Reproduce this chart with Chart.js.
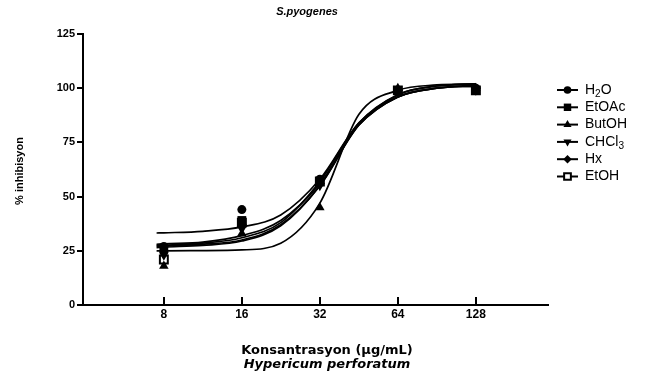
<!DOCTYPE html>
<html>
<head>
<meta charset="utf-8">
<script src="https://cdn.jsdelivr.net/npm/chart.js@4.4.1/dist/chart.umd.min.js"></script>
<style>
  html, body { margin: 0; padding: 0; background: #fff; }
</style>
</head>
<body>
<canvas id="myChart" width="648" height="374"></canvas>
<script>
// concentrations tested (µg/mL) and % inhibition per extract
const concentrations = [8, 16, 32, 64, 128];
const extracts = ['H₂O', 'EtOAc', 'ButOH', 'CHCl₃', 'Hx', 'EtOH'];

const h2o   = [27, 44, 58, 99, 100];
const etoac = [26, 39, 57, 99, 99];
const butoh = [18, 33, 45, 100, 100];
const chcl3 = [23, 35, 55, 98, 99];
const hx    = [25, 37, 56, 99, 100];
const etoh  = [21, 38, 57, 99, 99];

// fitted dose-response curves, read at half-octave steps
const fitConc  = [7.5, 8, 11.3, 16, 22.6, 32, 45.3, 64, 90.5, 128];
const h2oFit   = [33.2, 33.3, 34, 36, 41.5, 58, 84, 96, 100, 101];
const etoacFit = [27.5, 27.6, 28.5, 31, 38, 57, 84, 97, 101, 102];
const butohFit = [25, 25, 25.1, 25.4, 28.5, 47, 88, 99, 101.5, 102];
const chcl3Fit = [27, 27.2, 28, 30, 37, 55, 83, 96, 100, 101.5];
const hxFit    = [28, 28.2, 29, 32, 39, 56, 83, 96, 100, 101];
const etohFit  = [26.5, 26.7, 27.5, 29.5, 36.5, 55, 83.5, 97, 101, 102];

const yTicks = [0, 25, 50, 75, 100, 125];

const series = [h2o, etoac, butoh, chcl3, hx, etoh];
const fits = [h2oFit, etoacFit, butohFit, chcl3Fit, hxFit, etohFit];

const markers = [
  { pointStyle: 'circle',   radius: 4.5, rotation: 0,   fill: '#000', border: 0 },
  { pointStyle: 'rect',     radius: 6.2, rotation: 0,   fill: '#000', border: 0 },
  { pointStyle: 'triangle', radius: 5.5, rotation: 0,   fill: '#000', border: 0 },
  { pointStyle: 'triangle', radius: 5.5, rotation: 180, fill: '#000', border: 0 },
  { pointStyle: 'rectRot',  radius: 5,   rotation: 0,   fill: '#000', border: 0 },
  { pointStyle: 'rect',     radius: 5.6, rotation: 0,   fill: '#fff', border: 2 }
];

const toXY = (xs, ys) => xs.map((x, i) => ({ x: x, y: ys[i] }));

const datasets = [];
fits.forEach((f, i) => {
  datasets.push({
    type: 'line',
    label: extracts[i] + ' fit',
    data: toXY(fitConc, f),
    borderColor: '#000',
    borderWidth: 1.7,
    pointRadius: 0,
    cubicInterpolationMode: 'monotone',
    fill: false,
    order: 2
  });
});
series.forEach((s, i) => {
  const m = markers[i];
  datasets.push({
    type: 'scatter',
    label: extracts[i],
    data: toXY(concentrations, s),
    showLine: false,
    pointStyle: m.pointStyle,
    pointRadius: m.radius,
    pointRotation: m.rotation,
    pointBackgroundColor: m.fill,
    pointBorderColor: '#000',
    pointBorderWidth: m.border,
    order: 1
  });
});

// draws a label, rendering subscript digits smaller and lowered
function drawRich(ctx, text, x, y, size) {
  const subs = '₀₁₂₃₄₅₆₇₈₉';
  let cx = x;
  for (const ch of text) {
    const k = subs.indexOf(ch);
    if (k >= 0) {
      ctx.font = (size * 0.72) + 'px "Liberation Sans", Arial, sans-serif';
      ctx.fillText(String(k), cx, y + size * 0.28);
      cx += ctx.measureText(String(k)).width;
    } else {
      ctx.font = size + 'px "Liberation Sans", Arial, sans-serif';
      ctx.fillText(ch, cx, y);
      cx += ctx.measureText(ch).width;
    }
  }
}

const extras = {
  id: 'extras',
  afterDraw(chart) {
    const ctx = chart.ctx;
    const x = chart.scales.x;
    const area = chart.chartArea;
    ctx.save();

    // inward tick marks on the concentration axis
    ctx.strokeStyle = '#000';
    ctx.lineWidth = 2;
    concentrations.forEach(c => {
      const px = Math.round(x.getPixelForValue(c));
      ctx.beginPath();
      ctx.moveTo(px, area.bottom);
      ctx.lineTo(px, area.bottom - 8);
      ctx.stroke();
    });

    // titles
    ctx.fillStyle = '#000';
    ctx.textAlign = 'center';
    ctx.textBaseline = 'middle';
    ctx.font = 'italic bold 11px "Liberation Sans", Arial, sans-serif';
    ctx.fillText('S.pyogenes', 307, 12);
    ctx.font = 'bold 13px "DejaVu Sans", sans-serif';
    ctx.fillText('Konsantrasyon (µg/mL)', 327, 351);
    ctx.font = 'italic bold 13px "DejaVu Sans", sans-serif';
    ctx.fillText('Hypericum perforatum', 327, 365);
    ctx.save();
    ctx.translate(20, 171);
    ctx.rotate(-Math.PI / 2);
    ctx.font = 'bold 11px "Liberation Sans", Arial, sans-serif';
    ctx.fillText('% inhibisyon', 0, 0);
    ctx.restore();

    // legend: short line with marker, then label
    ctx.textAlign = 'left';
    extracts.forEach((name, i) => {
      const ly = 90 + i * 17.3;
      const m = markers[i];
      ctx.strokeStyle = '#000';
      ctx.lineWidth = 2;
      ctx.beginPath();
      ctx.moveTo(557, ly);
      ctx.lineTo(578, ly);
      ctx.stroke();
      ctx.fillStyle = m.fill;
      ctx.strokeStyle = '#000';
      ctx.lineWidth = m.border;
      Chart.helpers.drawPoint(ctx, {
        pointStyle: m.pointStyle,
        radius: m.radius * 0.85,
        rotation: m.rotation,
        borderWidth: m.border
      }, 567.5, ly);
      ctx.fillStyle = '#000';
      drawRich(ctx, name, 585, ly, 14);
    });
    ctx.restore();
  }
};

const config = {
  data: { datasets: datasets },
  options: {
    responsive: false,
    animation: false,
    devicePixelRatio: 1,
    layout: { padding: { top: 34, right: 100, left: 0, bottom: 0 } },
    plugins: {
      legend: { display: false },
      tooltip: { enabled: false }
    },
    scales: {
      x: {
        type: 'logarithmic',
        min: 3.9,
        max: 243,
        afterBuildTicks: scale => {
          scale.ticks = concentrations.map(v => ({ value: v }));
        },
        afterFit: scale => { scale.height = 69; },
        grid: { display: false, drawTicks: false, tickLength: 0 },
        border: { display: true, color: '#000', width: 2 },
        ticks: {
          color: '#000',
          padding: 2,
          maxRotation: 0,
          font: { family: '"Liberation Sans", Arial, sans-serif', size: 12, weight: 'bold' },
          callback: v => String(v)
        }
      },
      y: {
        type: 'linear',
        min: 0,
        max: 125,
        afterBuildTicks: scale => {
          scale.ticks = yTicks.map(v => ({ value: v }));
        },
        afterFit: scale => { scale.width = 83; },
        grid: {
          drawOnChartArea: false,
          drawTicks: true,
          tickLength: 6,
          color: '#000',
          lineWidth: 2
        },
        border: { display: true, color: '#000', width: 2 },
        ticks: {
          color: '#000',
          padding: 2,
          font: { family: '"Liberation Sans", Arial, sans-serif', size: 11, weight: 'bold' }
        }
      }
    }
  },
  plugins: [extras]
};

const ctx = document.getElementById('myChart');
const chart = new Chart(ctx, config);
</script>
</body>
</html>
